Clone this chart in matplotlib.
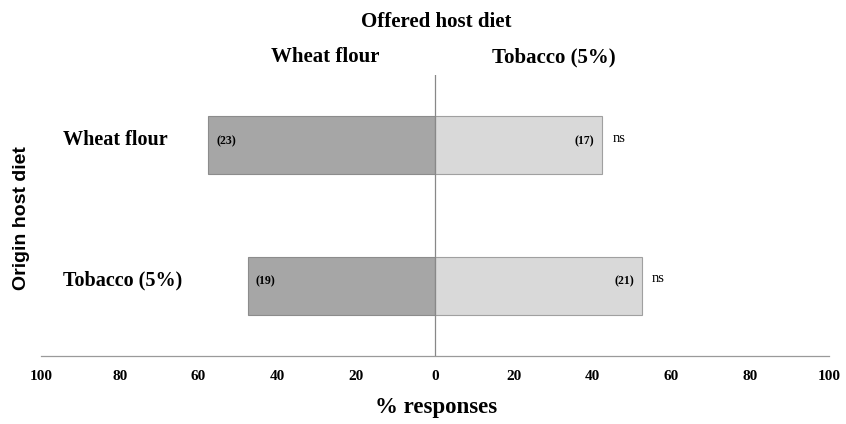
import matplotlib
matplotlib.use("Agg")
import matplotlib.pyplot as plt

origin_diets = ["Wheat flour", "Tobacco (5%)"]
offered_diets = ["Wheat flour", "Tobacco (5%)"]
pct_wheat = [57.5, 47.5]      # % choosing wheat flour (plotted to the left)
pct_tobacco = [42.5, 52.5]    # % choosing tobacco (plotted to the right)
n_wheat = [23, 19]
n_tobacco = [17, 21]
signif = ["ns", "ns"]
tick_values = [-100, -80, -60, -40, -20, 0, 20, 40, 60, 80, 100]
tick_labels = ["100", "80", "60", "40", "20", "0", "20", "40", "60", "80", "100"]

serif = "Liberation Serif"
fig = plt.figure(figsize=(8.46, 4.24), dpi=100)
ax = fig.add_axes([41/846, 1-356/424, (829-41)/846, (356-75)/424])

ypos = list(range(len(origin_diets)))
ax.barh(ypos, [-v for v in pct_wheat], height=0.41, color="#a6a6a6",
        edgecolor="#8c8c8c", linewidth=0.8, zorder=2)
ax.barh(ypos, pct_tobacco, height=0.41, color="#d9d9d9",
        edgecolor="#a0a0a0", linewidth=0.8, zorder=2)

ax.set_xlim(-100, 100)
ax.set_ylim(1.5, -0.5)
ax.axvline(0, color="#888888", linewidth=0.9, zorder=3)

for s in ["top", "right", "left"]:
    ax.spines[s].set_visible(False)
ax.spines["bottom"].set_color("#9a9a9a")
ax.spines["bottom"].set_linewidth(0.9)
ax.set_yticks([])
ax.set_xticks(tick_values)
ax.set_xticklabels(tick_labels, fontfamily=serif, fontweight="bold", fontsize=11)
ax.tick_params(axis="x", length=0, pad=10)

for y, lab in zip(ypos, origin_diets):
    ax.text(-94.3, y - 0.04, lab, ha="left", va="center", fontfamily=serif,
            fontweight="bold", fontsize=14.5)

for y, w, t, nw, nt, sg in zip(ypos, pct_wheat, pct_tobacco, n_wheat, n_tobacco, signif):
    ax.text(-w + 2, y - 0.03, f"({nw})", ha="left", va="center", fontfamily=serif,
            fontweight="bold", fontsize=8.5, zorder=4)
    ax.text(t - 2, y - 0.03, f"({nt})", ha="right", va="center", fontfamily=serif,
            fontweight="bold", fontsize=8.5, zorder=4)
    ax.text(t + 2.5, y - 0.05, sg, ha="left", va="center", fontfamily=serif,
            fontsize=10.5)

fig.text(436/846, 1-22/424, "Offered host diet", ha="center", va="center",
         fontfamily=serif, fontweight="bold", fontsize=15)
fig.text(325/846, 1-57/424, offered_diets[0], ha="center", va="center",
         fontfamily=serif, fontweight="bold", fontsize=15)
fig.text(554/846, 1-57/424, offered_diets[1], ha="center", va="center",
         fontfamily=serif, fontweight="bold", fontsize=15)
fig.text(436/846, 1-407/424, "% responses", ha="center", va="center",
         fontfamily=serif, fontweight="bold", fontsize=16.5)
fig.text(21/846, 1-218/424, "Origin host diet", ha="center", va="center",
         rotation=90, fontfamily="Liberation Sans", fontweight="bold", fontsize=14)

fig.savefig("out.png", dpi=100)
